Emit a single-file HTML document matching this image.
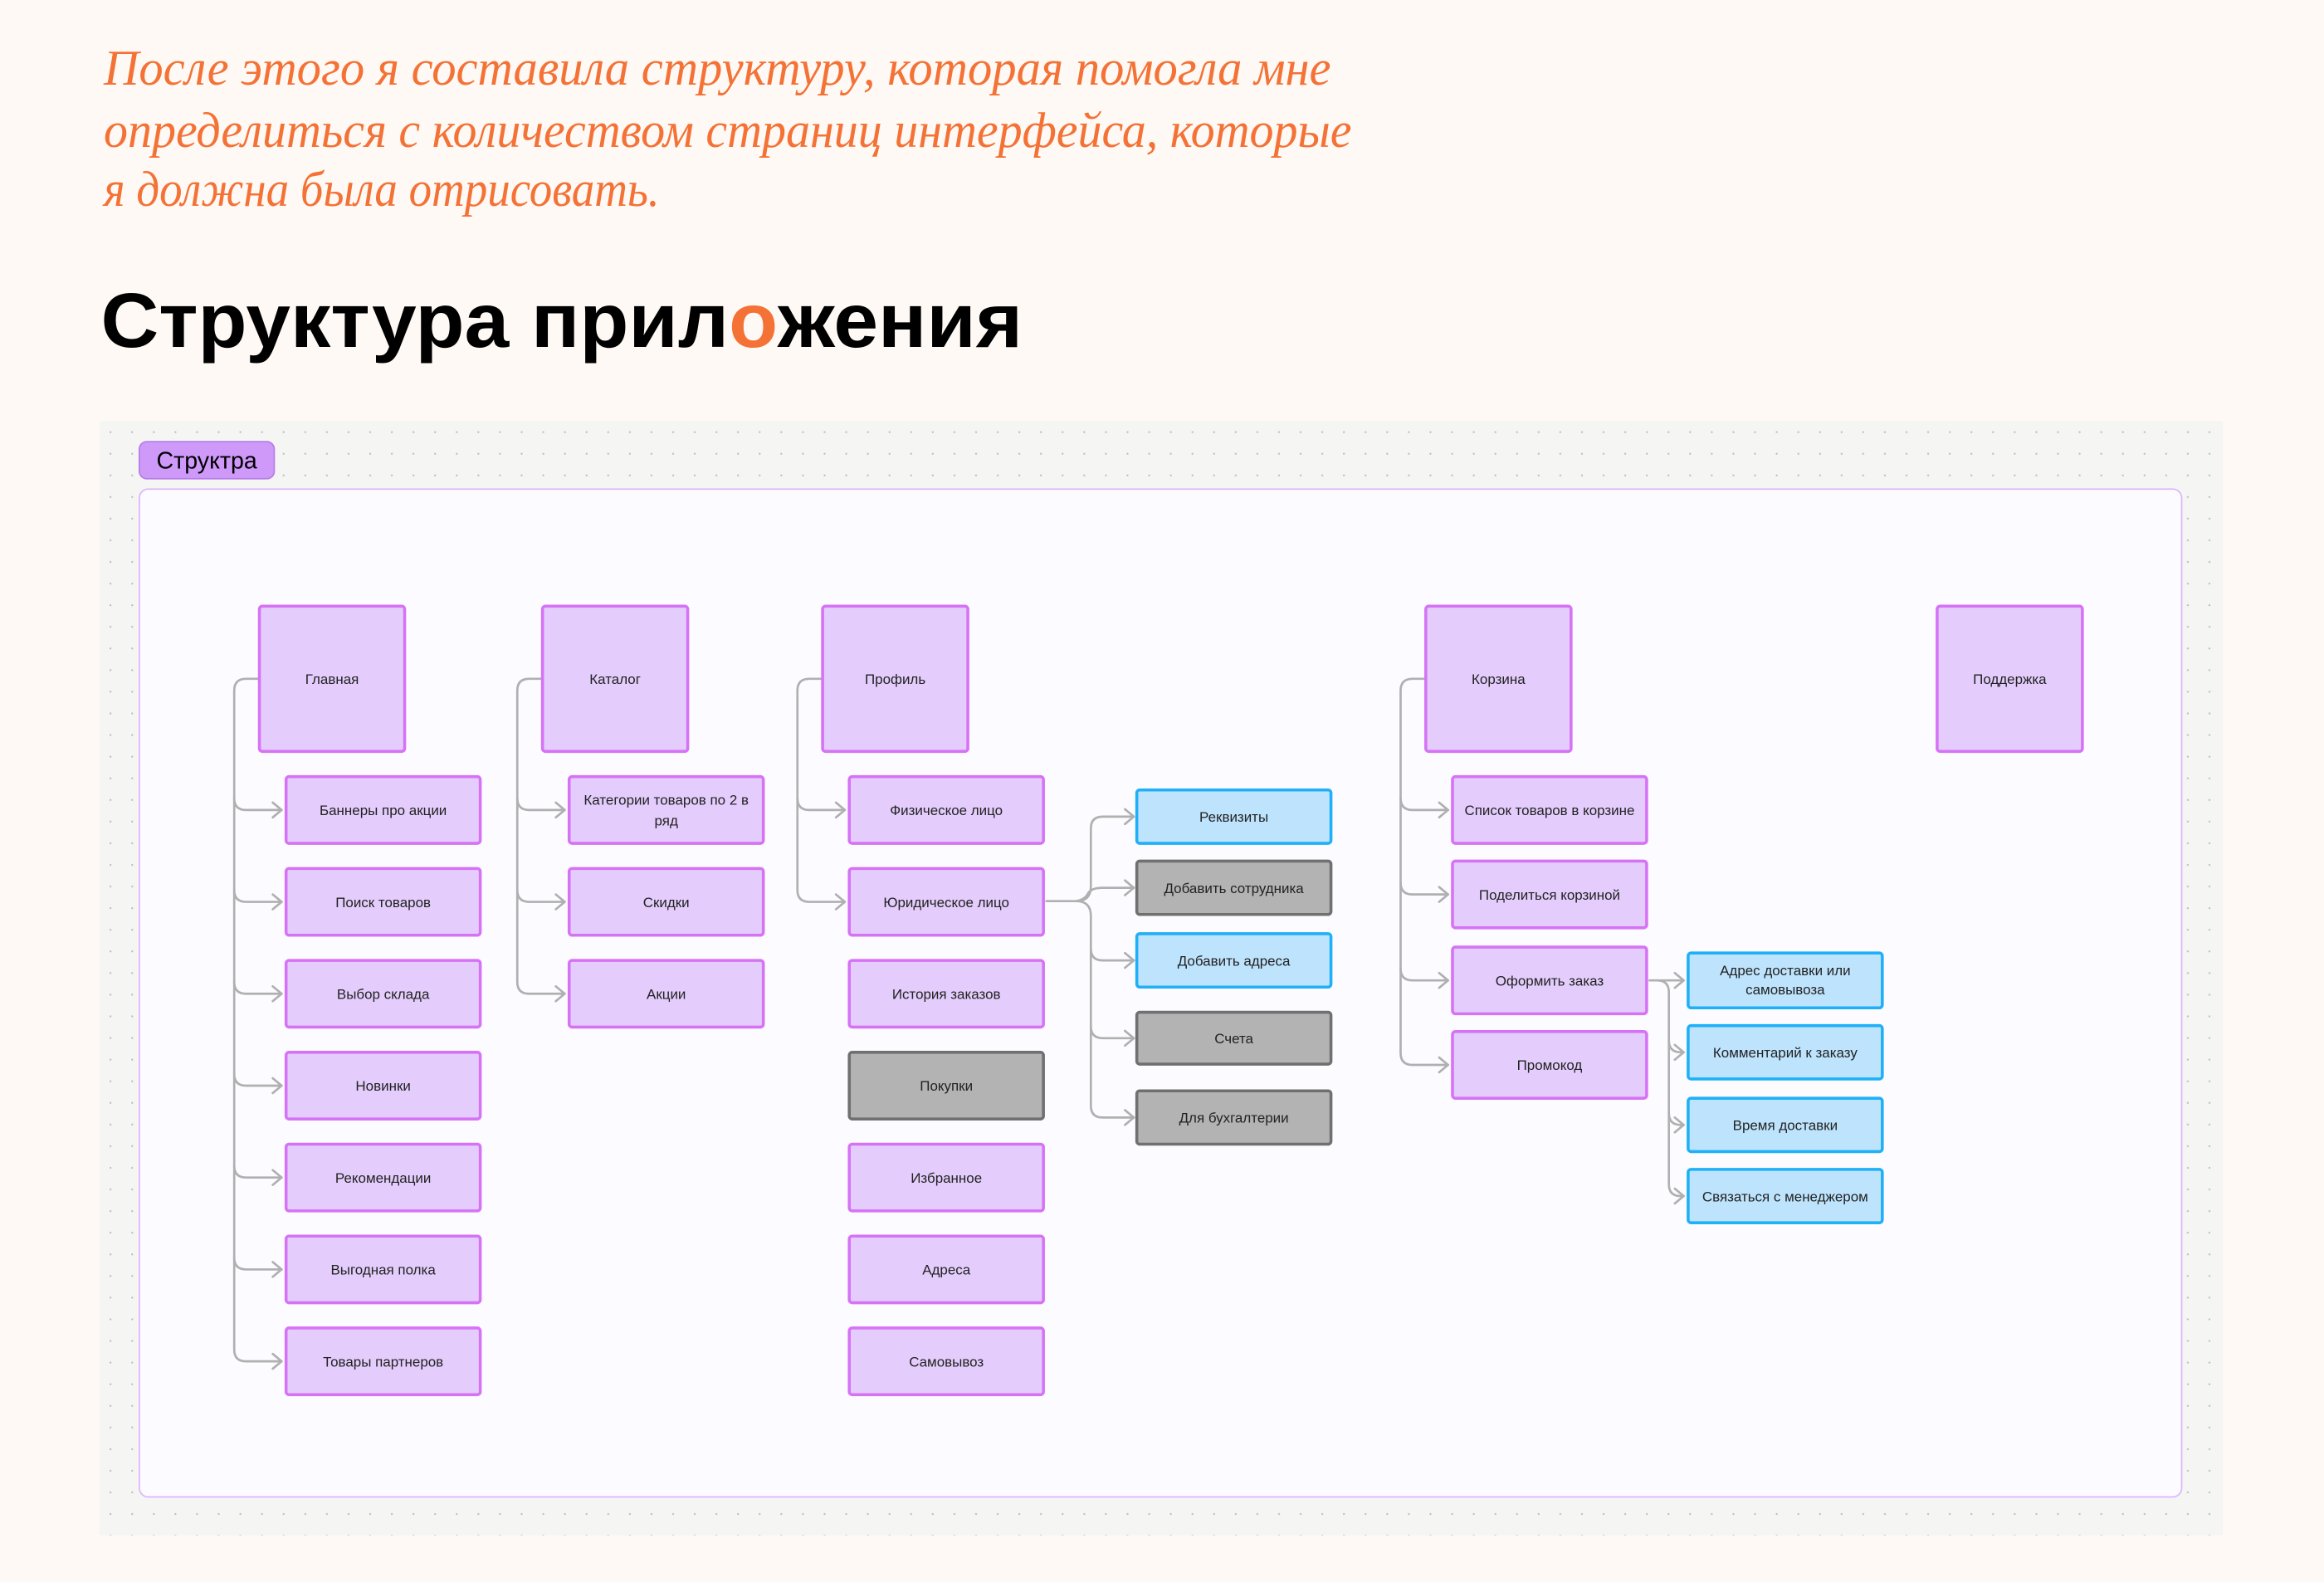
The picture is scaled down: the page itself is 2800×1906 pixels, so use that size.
<!DOCTYPE html>
<html><head><meta charset="utf-8"><style>
html,body{margin:0;padding:0;background:#fef9f4;}
svg{display:block}
</style></head><body>
<svg width="2800" height="1906" viewBox="0 0 1568 1067.4" xmlns="http://www.w3.org/2000/svg">
<defs>
<pattern id="dots" x="67" y="284" width="14.6" height="14.6" patternUnits="userSpaceOnUse">
<rect x="7" y="7" width="1.1" height="1.1" fill="#b8b8b8"/>
</pattern>
</defs>
<rect width="1568" height="1067.4" fill="#fef9f4"/>
<g font-family="Liberation Serif, DejaVu Serif, serif" font-style="italic" fill="#f47236" font-size="34">
<text x="70" y="57" textLength="828" lengthAdjust="spacingAndGlyphs">После этого я составила структуру, которая помогла мне</text>
<text x="70" y="99" textLength="842" lengthAdjust="spacingAndGlyphs">определиться с количеством страниц интерфейса, которые</text>
<text x="70" y="139" textLength="375" lengthAdjust="spacingAndGlyphs">я должна была отрисовать.</text>
</g>
<text x="68" y="234" font-family="Liberation Sans, sans-serif" font-weight="bold" font-size="52" fill="#000" textLength="622" lengthAdjust="spacingAndGlyphs">Структура прил<tspan fill="#f47236">о</tspan>жения</text>

<rect x="67" y="284" width="1433" height="752" fill="#f5f5f4"/>
<rect x="67" y="284" width="1433" height="752" fill="url(#dots)"/>
<rect x="94" y="298" width="91" height="25" rx="5" fill="#cf99fa" stroke="#b67fe8" stroke-width="1"/>
<text x="139.5" y="316" text-anchor="middle" font-family="Liberation Sans, sans-serif" font-size="16" fill="#000">Структра</text>
<rect x="94" y="330" width="1378" height="680" rx="6" fill="#fcfbff" stroke="#dcb8fa" stroke-width="1"/>

<g fill="none" stroke="#b0b0b0" stroke-width="1.5" stroke-linecap="round" stroke-linejoin="round">
<path d="M175,458 H166 Q158,458 158,466 V910.5 Q158,918.5 166,918.5 H190"/>
<path d="M158,538.5 Q158,546.5 166,546.5 H190 M158,600.5 Q158,608.5 166,608.5 H190 M158,662.5 Q158,670.5 166,670.5 H190 M158,724.5 Q158,732.5 166,732.5 H190 M158,786.5 Q158,794.5 166,794.5 H190 M158,848.5 Q158,856.5 166,856.5 H190"/>
<path d="M184,541.5 L190,546.5 L184,551.5 M184,603.5 L190,608.5 L184,613.5 M184,665.5 L190,670.5 L184,675.5 M184,727.5 L190,732.5 L184,737.5 M184,789.5 L190,794.5 L184,799.5 M184,851.5 L190,856.5 L184,861.5 M184,913.5 L190,918.5 L184,923.5"/>
<path d="M366,458 H357 Q349,458 349,466 V662.5 Q349,670.5 357,670.5 H381"/>
<path d="M349,538.5 Q349,546.5 357,546.5 H381 M349,600.5 Q349,608.5 357,608.5 H381"/>
<path d="M375,541.5 L381,546.5 L375,551.5 M375,603.5 L381,608.5 L375,613.5 M375,665.5 L381,670.5 L375,675.5"/>
<path d="M555,458 H546 Q538,458 538,466 V600.5 Q538,608.5 546,608.5 H570"/>
<path d="M538,538.5 Q538,546.5 546,546.5 H570"/>
<path d="M564,541.5 L570,546.5 L564,551.5 M564,603.5 L570,608.5 L564,613.5"/>
<path d="M706,608 H726 Q736,608 736,598 V559 Q736,551 744,551 H765"/>
<path d="M726,608 Q736,608 736,618 V746 Q736,754 744,754 H765"/>
<path d="M726,608 Q732,607 734,603 Q736,599 744,599 H765"/>
<path d="M736,640 Q736,648 744,648 H765 M736,692.5 Q736,700.5 744,700.5 H765"/>
<path d="M759,546 L765,551 L759,556 M759,594 L765,599 L759,604 M759,643 L765,648 L759,653 M759,695.5 L765,700.5 L759,705.5 M759,749 L765,754 L759,759"/>
<path d="M962,458 H953 Q945,458 945,466 V710.5 Q945,718.5 953,718.5 H977"/>
<path d="M945,538.5 Q945,546.5 953,546.5 H977 M945,595.5 Q945,603.5 953,603.5 H977 M945,653.5 Q945,661.5 953,661.5 H977"/>
<path d="M971,541.5 L977,546.5 L971,551.5 M971,598.5 L977,603.5 L971,608.5 M971,656.5 L977,661.5 L971,666.5 M971,713.5 L977,718.5 L971,723.5"/>
<path d="M1113,661.5 H1136"/>
<path d="M1118,661.5 Q1126,661.5 1126,669.5 V799 Q1126,807 1134,807 H1136"/>
<path d="M1126,702 Q1126,710 1134,710 H1136 M1126,751 Q1126,759 1134,759 H1136"/>
<path d="M1130,656.5 L1136,661.5 L1130,666.5 M1130,705 L1136,710 L1130,715 M1130,754 L1136,759 L1130,764 M1130,802 L1136,807 L1130,812"/>
</g>

<g stroke-width="2">
<g fill="#e4cdfc" stroke="#d673f5">
<rect x="175" y="409" width="98" height="98" rx="2"/>
<rect x="366" y="409" width="98" height="98" rx="2"/>
<rect x="555" y="409" width="98" height="98" rx="2"/>
<rect x="962" y="409" width="98" height="98" rx="2"/>
<rect x="1307" y="409" width="98" height="98" rx="2"/>
<rect x="193" y="524" width="131" height="45" rx="2"/>
<rect x="193" y="586" width="131" height="45" rx="2"/>
<rect x="193" y="648" width="131" height="45" rx="2"/>
<rect x="193" y="710" width="131" height="45" rx="2"/>
<rect x="193" y="772" width="131" height="45" rx="2"/>
<rect x="193" y="834" width="131" height="45" rx="2"/>
<rect x="193" y="896" width="131" height="45" rx="2"/>
<rect x="384" y="524" width="131" height="45" rx="2"/>
<rect x="384" y="586" width="131" height="45" rx="2"/>
<rect x="384" y="648" width="131" height="45" rx="2"/>
<rect x="573" y="524" width="131" height="45" rx="2"/>
<rect x="573" y="586" width="131" height="45" rx="2"/>
<rect x="573" y="648" width="131" height="45" rx="2"/>
<rect x="573" y="772" width="131" height="45" rx="2"/>
<rect x="573" y="834" width="131" height="45" rx="2"/>
<rect x="573" y="896" width="131" height="45" rx="2"/>
<rect x="980" y="524" width="131" height="45" rx="2"/>
<rect x="980" y="581" width="131" height="45" rx="2"/>
<rect x="980" y="639" width="131" height="45" rx="2"/>
<rect x="980" y="696" width="131" height="45" rx="2"/>
</g>
<g fill="#b3b3b3" stroke="#707070">
<rect x="573" y="710" width="131" height="45" rx="2"/>
<rect x="767" y="581" width="131" height="36" rx="2"/>
<rect x="767" y="683" width="131" height="35" rx="2"/>
<rect x="767" y="736" width="131" height="36" rx="2"/>
</g>
<g fill="#bee4fd" stroke="#1fb0f7">
<rect x="767" y="533" width="131" height="36" rx="2"/>
<rect x="767" y="630" width="131" height="36" rx="2"/>
<rect x="1139" y="643" width="131" height="37" rx="2"/>
<rect x="1139" y="692" width="131" height="36" rx="2"/>
<rect x="1139" y="741" width="131" height="36" rx="2"/>
<rect x="1139" y="789" width="131" height="36" rx="2"/>
</g>
</g>

<g font-family="Liberation Sans, sans-serif" font-size="9.5" fill="#222" text-anchor="middle">
<text x="224" y="461.5">Главная</text>
<text x="415" y="461.5">Каталог</text>
<text x="604" y="461.5">Профиль</text>
<text x="1011" y="461.5">Корзина</text>
<text x="1356" y="461.5">Поддержка</text>
<text x="258.5" y="550">Баннеры про акции</text>
<text x="258.5" y="612">Поиск товаров</text>
<text x="258.5" y="674">Выбор склада</text>
<text x="258.5" y="736">Новинки</text>
<text x="258.5" y="798">Рекомендации</text>
<text x="258.5" y="860">Выгодная полка</text>
<text x="258.5" y="922">Товары партнеров</text>
<text x="449.5" y="543">Категории товаров по 2 в</text>
<text x="449.5" y="557">ряд</text>
<text x="449.5" y="612">Скидки</text>
<text x="449.5" y="674">Акции</text>
<text x="638.5" y="550">Физическое лицо</text>
<text x="638.5" y="612">Юридическое лицо</text>
<text x="638.5" y="674">История заказов</text>
<text x="638.5" y="736">Покупки</text>
<text x="638.5" y="798">Избранное</text>
<text x="638.5" y="860">Адреса</text>
<text x="638.5" y="922">Самовывоз</text>
<text x="832.5" y="554.5">Реквизиты</text>
<text x="832.5" y="602.5">Добавить сотрудника</text>
<text x="832.5" y="651.5">Добавить адреса</text>
<text x="832.5" y="704">Счета</text>
<text x="832.5" y="757.5">Для бухгалтерии</text>
<text x="1045.5" y="550">Список товаров в корзине</text>
<text x="1045.5" y="607">Поделиться корзиной</text>
<text x="1045.5" y="665">Оформить заказ</text>
<text x="1045.5" y="722">Промокод</text>
<text x="1204.5" y="658">Адрес доставки или</text>
<text x="1204.5" y="671">самовывоза</text>
<text x="1204.5" y="713.5">Комментарий к заказу</text>
<text x="1204.5" y="762.5">Время доставки</text>
<text x="1204.5" y="810.5">Связаться с менеджером</text>
</g>
</svg>
</body></html>
